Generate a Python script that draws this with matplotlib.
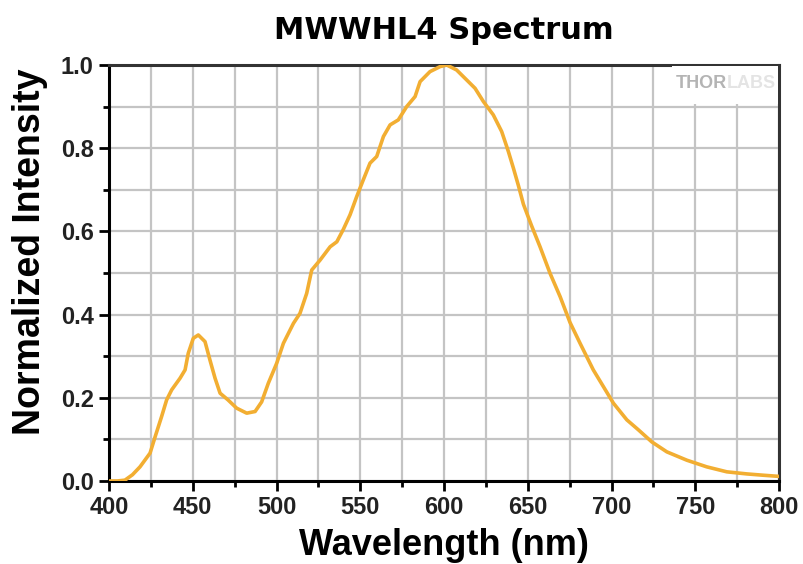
import numpy as np
import matplotlib
matplotlib.use("Agg")
import matplotlib.pyplot as plt
from matplotlib.ticker import MultipleLocator, FormatStrFormatter

plt.rcParams['font.family'] = ['Liberation Sans', 'DejaVu Sans']

# Spectrum
wavelength = [400, 405, 409.5, 414, 418.5, 424.5, 427.5, 431.4, 434.4, 437.4, 442.4, 445.4,
              447.3, 450.3, 453.3, 457.3, 460.3, 463.3, 466.3, 471, 476.2, 482.2, 487.2,
              491.1, 495.1, 500.1, 504.1, 510.1, 514, 518, 521, 526, 532, 536, 539.9, 543.9,
              547.8, 551.8, 555.8, 559.8, 563.8, 567.8, 572.7, 577.7, 582.7, 585.7, 591.6,
              597.6, 601.6, 607.5, 613.5, 618.5, 623.5, 629.4, 634.4, 638.4, 641.4, 644.4,
              647.4, 652.3, 657.3, 663.3, 669.3, 675.2, 681.2, 689.1, 695.1, 701.1, 709.1,
              716, 724, 733, 744.9, 756.8, 768.8, 780.7, 790, 800]
intensity = [0.0, 0.0, 0.002, 0.015, 0.034, 0.067, 0.106, 0.155, 0.195, 0.219, 0.247, 0.267,
             0.307, 0.343, 0.351, 0.335, 0.29, 0.247, 0.211, 0.195, 0.175, 0.163, 0.167,
             0.19, 0.235, 0.283, 0.331, 0.379, 0.403, 0.451, 0.507, 0.531, 0.563, 0.575, 0.605,
             0.64, 0.683, 0.724, 0.764, 0.78, 0.828, 0.856, 0.868, 0.9, 0.924, 0.96, 0.984,
             0.996, 1.0, 0.988, 0.964, 0.944, 0.912, 0.88, 0.84, 0.792, 0.752, 0.71,
             0.665, 0.613, 0.563, 0.499, 0.443, 0.381, 0.331, 0.267, 0.227, 0.187, 0.147,
             0.123, 0.094, 0.07, 0.05, 0.034, 0.022, 0.017, 0.014, 0.011]

fig = plt.figure(figsize=(8.04, 5.64), dpi=100)
ax = fig.add_axes([0.1356, 0.1472, 0.8334, 0.7376])

ax.plot(wavelength, intensity, color='#F2AE32', linewidth=2.6, zorder=3,
        solid_joinstyle='round')

ax.set_xlim(400, 800)
ax.set_ylim(0, 1.0)
ax.xaxis.set_major_locator(MultipleLocator(50))
ax.xaxis.set_minor_locator(MultipleLocator(25))
ax.yaxis.set_major_locator(MultipleLocator(0.2))
ax.yaxis.set_minor_locator(MultipleLocator(0.1))
ax.yaxis.set_major_formatter(FormatStrFormatter('%.1f'))

ax.grid(True, which='both', color='#c4c4c4', linewidth=1.6, zorder=0)
ax.set_axisbelow(True)

ax.tick_params(which='major', direction='out', length=7, width=2, labelsize=17, pad=4)
ax.tick_params(which='minor', direction='out', length=4, width=2)
for lab in ax.get_xticklabels() + ax.get_yticklabels():
    lab.set_fontweight('bold')
    lab.set_color('#222222')

for side in ['left', 'bottom']:
    ax.spines[side].set_linewidth(2.2)
    ax.spines[side].set_color('black')
for side in ['top', 'right']:
    ax.spines[side].set_linewidth(2.2)
    ax.spines[side].set_color('#333333')

ax.text(0.5, 1.084, 'MWWHL4 Spectrum', transform=ax.transAxes, ha='center', va='center',
        fontsize=22, fontweight='bold', family='DejaVu Sans')
ax.set_xlabel('Wavelength (nm)', fontsize=26, fontweight='bold')
ax.set_ylabel('Normalized Intensity', fontsize=27, fontweight='bold')
ax.xaxis.set_label_coords(0.5, -0.154)
ax.yaxis.set_label_coords(-0.118, 0.55)
ax.xaxis.label.set_va('center')
ax.yaxis.label.set_va('center')

# watermark
ax.text(0.922, 0.955, 'THOR', transform=ax.transAxes, ha='right', va='center',
        fontsize=13, fontweight='bold', color='#b4b4b4', zorder=5)
ax.text(0.922, 0.955, 'LABS', transform=ax.transAxes, ha='left', va='center',
        fontsize=13, fontweight='bold', color='#e4e4e4', zorder=5)
ax.add_patch(plt.Rectangle((0.84, 0.905), 0.158, 0.093, transform=ax.transAxes,
                           facecolor='white', edgecolor='none', zorder=4))

fig.savefig('out.png', dpi=100)
